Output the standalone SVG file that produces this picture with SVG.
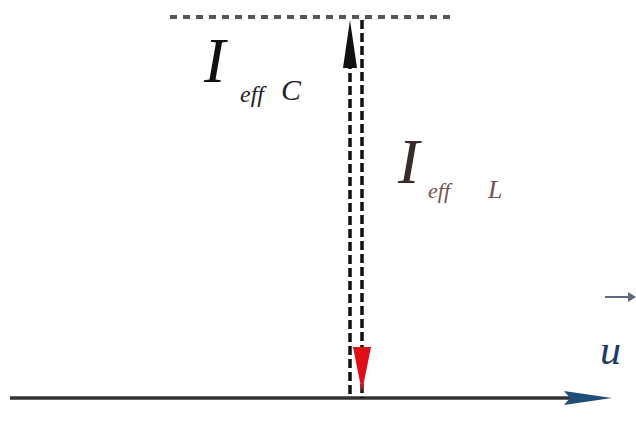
<svg xmlns="http://www.w3.org/2000/svg" width="636" height="432" viewBox="0 0 636 432">
<style>
.lbl{font-family:"Liberation Serif","Times New Roman",serif;font-style:italic}
.dash{fill:none;stroke:#111;stroke-width:3.5;stroke-dasharray:9 4}
</style>
<rect width="636" height="432" fill="#fff"/>
<g id="connectors">
  <line x1="170" y1="17" x2="450" y2="17" stroke="#555" stroke-width="4" stroke-dasharray="7 6"/>
  <line x1="10" y1="398" x2="570" y2="398" stroke="#333" stroke-width="3.5"/>
  <polygon points="612,398 564,391 570,398 564,405" fill="#1f4e79"/>
  <line class="dash" x1="350" y1="60" x2="350" y2="398"/>
  <polygon points="350,20 343,68 357,68" fill="#111"/>
  <line class="dash" x1="362" y1="20" x2="362" y2="398"/>
  <polygon points="362,392 353,347 371,347" fill="#e0101a"/>
  <line x1="605" y1="297" x2="630" y2="297" stroke="#5a6a80" stroke-width="2"/>
  <polygon points="636,297 628,292 628,302" fill="#5a6a80"/>
</g>
<g id="label-IeffC">
  <text class="lbl" x="204" y="82" font-size="64" fill="#111">I</text>
  <text class="lbl" x="240" y="102" font-size="24" fill="#222">eff</text>
  <text class="lbl" x="281" y="100" font-size="30" fill="#222">C</text>
</g>
<g id="label-IeffL">
  <text class="lbl" x="398" y="183" font-size="64" fill="#3a2a2a">I</text>
  <text class="lbl" x="428" y="198" font-size="22" fill="#7a5050">eff</text>
  <text class="lbl" x="488" y="198" font-size="26" fill="#7a5050">L</text>
</g>
<g id="label-u">
  <text class="lbl" x="600" y="364" font-size="42" fill="#1f3a6a">u</text>
</g>
</svg>
